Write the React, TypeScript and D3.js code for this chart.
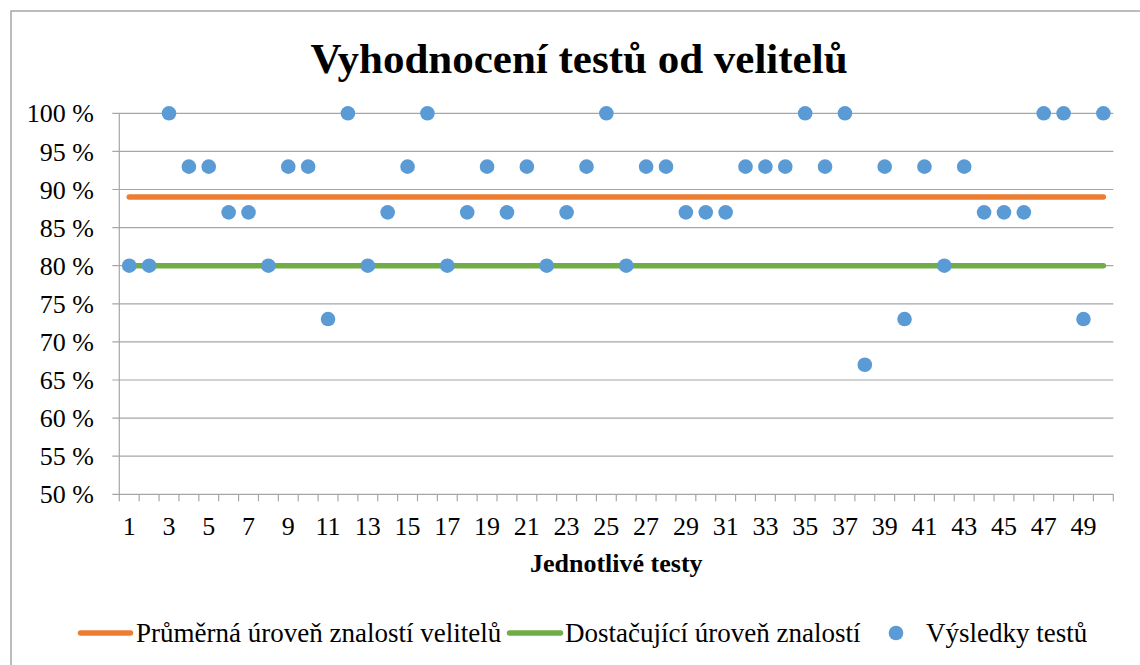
import React from "react";
import * as d3 from "d3";

const tests = d3.range(1, 51);
const scores = [
  80, 80, 100, 93, 93, 87, 87, 80, 93, 93,
  73, 100, 80, 87, 93, 100, 80, 87, 93, 87,
  93, 80, 87, 93, 100, 80, 93, 93, 87, 87,
  87, 93, 93, 93, 100, 93, 100, 67, 93, 73,
  93, 80, 93, 87, 87, 87, 100, 100, 73, 100,
];
const averageLevel = 89;
const sufficientLevel = 80;
const yTicks = [50, 55, 60, 65, 70, 75, 80, 85, 90, 95, 100];

const W = 1140;
const H = 665;
const plot = { left: 119.3, right: 1113.3, top: 113.3, bottom: 494.3 };

const serif = "'Liberation Serif', 'Times New Roman', serif";
const grid = "#a6a6a6";
const orange = "#ED7D31";
const green = "#70AD47";
const blue = "#5B9BD5";

export default function App() {
  const x = d3.scaleBand<number>().domain(tests).range([plot.left, plot.right]);
  const cx = (d: number) => (x(d) as number) + x.bandwidth() / 2;
  const y = d3.scaleLinear().domain([50, 100]).range([plot.bottom, plot.top]);

  const flat = (level: number) =>
    d3.line<number>().x((d) => cx(d)).y(() => y(level))(tests) as string;

  const boundaries = tests.map((d) => x(d) as number).concat([plot.right]);

  return (
    <div style={{ position: "absolute", left: 0, top: 0 }}>
      <svg width={W} height={H} style={{ display: "block", fontFamily: serif }}>
        <rect x={0} y={0} width={W} height={H} fill="#fff" />
        <rect x={11} y={11} width={W + 20} height={H + 20} fill="none" stroke="#a6a6a6" strokeWidth={1.5} />

        <text x={579} y={73} textAnchor="middle" fontSize={43} fontWeight="bold" fill="#000">
          Vyhodnocení testů od velitelů
        </text>

        {yTicks.map((t) => (
          <g key={t}>
            <line x1={plot.left - 7} x2={plot.right} y1={y(t)} y2={y(t)} stroke={grid} strokeWidth={1.2} />
            <text x={94} y={y(t)} dy="0.35em" textAnchor="end" fontSize={26} fill="#000">
              {`${t}\u00a0%`}
            </text>
          </g>
        ))}
        <line x1={plot.left} x2={plot.left} y1={plot.top} y2={plot.bottom} stroke={grid} strokeWidth={1.2} />

        {boundaries.map((b, i) => (
          <line key={i} x1={b} x2={b} y1={plot.bottom} y2={plot.bottom + 7} stroke={grid} strokeWidth={1.2} />
        ))}
        {tests.filter((d) => d % 2 === 1).map((d) => (
          <text key={d} x={cx(d)} y={535} textAnchor="middle" fontSize={26} fill="#000">
            {d}
          </text>
        ))}
        <text x={(plot.left + plot.right) / 2} y={572} textAnchor="middle" fontSize={26} fontWeight="bold" fill="#000">
          Jednotlivé testy
        </text>

        <path d={flat(averageLevel)} fill="none" stroke={orange} strokeWidth={5.5} strokeLinecap="round" />
        <path d={flat(sufficientLevel)} fill="none" stroke={green} strokeWidth={5.5} strokeLinecap="round" />

        {scores.map((s, i) => (
          <circle key={i} cx={cx(tests[i])} cy={y(s)} r={7.3} fill={blue} />
        ))}

        <g fontSize={27} fill="#000">
          <line x1={80.5} x2={130.5} y1={633} y2={633} stroke={orange} strokeWidth={5.5} strokeLinecap="round" />
          <text x={136} y={642}>Průměrná úroveň znalostí velitelů</text>
          <line x1={509.5} x2={560.5} y1={633} y2={633} stroke={green} strokeWidth={5.5} strokeLinecap="round" />
          <text x={565} y={642}>Dostačující úroveň znalostí</text>
          <circle cx={896} cy={633} r={7.3} fill={blue} />
          <text x={926} y={642}>Výsledky testů</text>
        </g>
      </svg>
    </div>
  );
}
